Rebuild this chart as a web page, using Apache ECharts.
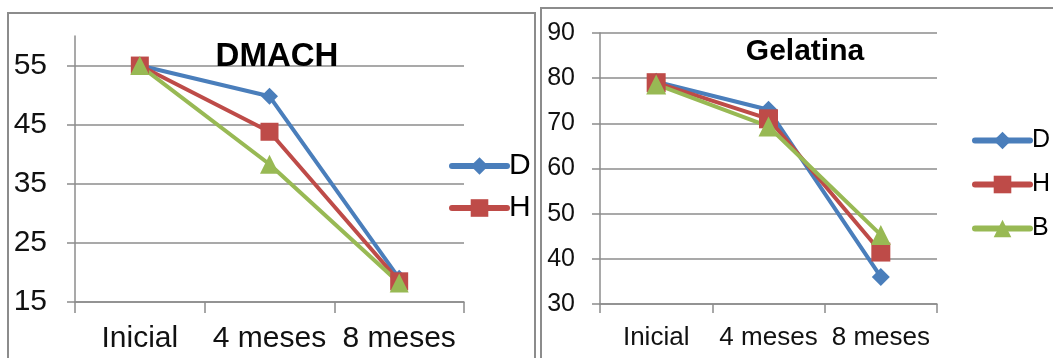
<!DOCTYPE html>
<html>
<head>
<meta charset="utf-8">
<script src="https://cdn.jsdelivr.net/npm/echarts@6/dist/echarts.min.js"></script>
<style>
  html, body { margin: 0; padding: 0; background: #fff; }
  #chart { width: 1053px; height: 358px; }
</style>
</head>
<body>
<div id="chart"></div>
<script>
  const categories = ['Inicial', '4 meses', '8 meses']

  // DMACH (izquierda)
  const dmachD = [55, 49.8, 19]
  const dmachH = [55, 43.8, 18.5]
  const dmachB = [55, 38.3, 18.2]
  const dmachTicks = [15, 25, 35, 45, 55]

  // Gelatina (derecha)
  const gelD = [79.2, 73, 36]
  const gelH = [79, 71, 41.5]
  const gelB = [78.6, 69.3, 45.3]
  const gelTicks = [30, 40, 50, 60, 70, 80, 90]

  const colors = { D: '#4A7EBB', H: '#BE4B48', B: '#98B954' }
  const symbols = { D: 'diamond', H: 'rect', B: 'triangle' }
  const font = 'Liberation Sans, Arial, sans-serif'
  const gray = '#8c8c8c'

  function makeSeries(name, data, idx, size) {
    return {
      name: name,
      type: 'line',
      xAxisIndex: idx,
      yAxisIndex: idx,
      data: data,
      symbol: symbols[name],
      symbolSize: size,
      color: colors[name],
      lineStyle: { width: 4, color: colors[name] },
      itemStyle: { color: colors[name] },
      animation: false
    }
  }

  function xAxisOf(idx, fontSize, margin, tickLen) {
    return {
      type: 'category',
      gridIndex: idx,
      data: categories,
      boundaryGap: true,
      axisLine: { lineStyle: { color: gray, width: 1.5 } },
      axisTick: { show: true, length: tickLen, lineStyle: { color: gray, width: 1.5 } },
      axisLabel: { interval: 0, hideOverlap: false, color: '#111', fontSize: fontSize, lineHeight: fontSize, fontFamily: font, margin: margin }
    }
  }

  function yAxisOf(idx, ticks, fontSize, margin, max) {
    return {
      type: 'value',
      gridIndex: idx,
      min: ticks[0],
      max: max,
      interval: 10,
      axisLine: { show: true, lineStyle: { color: gray, width: 1.5 } },
      axisTick: { show: true, length: 8, lineStyle: { color: gray, width: 1.5 }, customValues: ticks },
      axisLabel: { color: '#111', fontSize: fontSize, fontFamily: font, margin: margin, customValues: ticks },
      splitLine: { show: true, lineStyle: { color: gray, width: 1.5 } }
    }
  }

  const chart = echarts.init(document.getElementById('chart'))
  chart.setOption({
    backgroundColor: '#fff',
    graphic: [
      { type: 'rect', shape: { x: 8, y: 13, width: 527, height: 400 }, style: { fill: 'none', stroke: gray, lineWidth: 2 }, silent: true },
      { type: 'rect', shape: { x: 541, y: 8, width: 600, height: 400 }, style: { fill: 'none', stroke: gray, lineWidth: 2 }, silent: true }
    ],
    title: [
      { text: 'DMACH', left: 272, top: 35, textAlign: 'center', textStyle: { fontSize: 33, fontWeight: 'bold', fontFamily: font, color: '#000' } },
      { text: 'Gelatina', left: 800, top: 32, textAlign: 'center', textStyle: { fontSize: 30, fontWeight: 'bold', fontFamily: font, color: '#000' } }
    ],
    legend: [
      {
        data: ['D', 'H'],
        orient: 'vertical',
        left: 449,
        top: 151,
        padding: 0,
        itemWidth: 55,
        itemHeight: 22,
        itemGap: 12,
        lineStyle: { width: 6, cap: 'round' },
        textStyle: { fontSize: 30, lineHeight: 30, fontFamily: font, color: '#000', padding: [0, 0, 0, -3] }
      },
      {
        data: ['D', 'H', 'B'],
        orient: 'vertical',
        left: 972,
        top: 128,
        padding: 0,
        itemWidth: 55,
        itemHeight: 22,
        itemGap: 19,
        lineStyle: { width: 6, cap: 'round' },
        textStyle: { fontSize: 25, lineHeight: 25, fontFamily: font, color: '#000', padding: [0, 0, 0, -3] }
      }
    ],
    grid: [
      { left: 75, top: 36, width: 389, height: 266 },
      { left: 600, top: 33, width: 337, height: 271 }
    ],
    xAxis: [
      xAxisOf(0, 30, 22, 11),
      xAxisOf(1, 26, 21, 9)
    ],
    yAxis: [
      yAxisOf(0, dmachTicks, 30, 28, 60),
      yAxisOf(1, gelTicks, 25, 25, 90)
    ],
    series: [
      makeSeries('D', dmachD, 0, 17),
      makeSeries('H', dmachH, 0, 18),
      makeSeries('B', dmachB, 0, 19),
      makeSeries('D', gelD, 1, 18),
      makeSeries('H', gelH, 1, 19),
      makeSeries('B', gelB, 1, 20)
    ]
  })
</script>
</body>
</html>
